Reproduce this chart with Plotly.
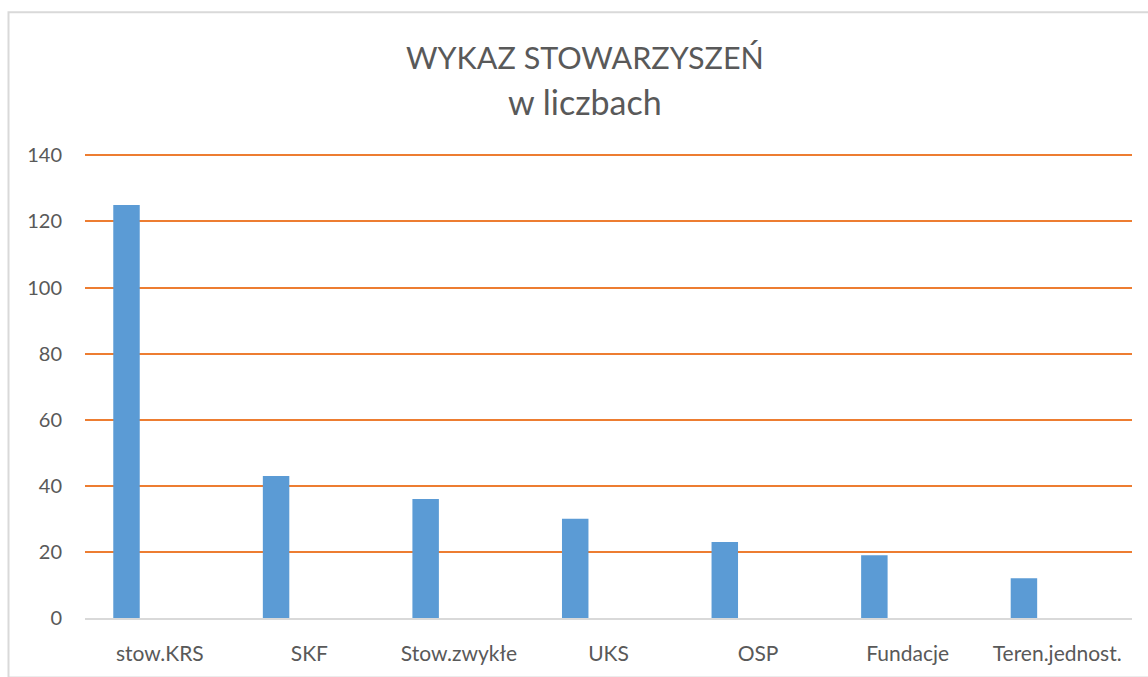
import plotly.graph_objects as go

categories = ["stow.KRS", "SKF", "Stow.zwykłe", "UKS", "OSP", "Fundacje", "Teren.jednost."]
values = [125, 43, 36, 30, 23, 19, 12]
y_ticks = [0, 20, 40, 60, 80, 100, 120, 140]
title_lines = ["WYKAZ STOWARZYSZEŃ", "w liczbach"]

W, H = 1148, 677
ml, mr, mt, mb = 85, 16, 152.4, 55
pw, ph = W - ml - mr, H - mt - mb

txt = "#595959"
font_name = "Lato"

fig = go.Figure()
fig.add_trace(go.Bar(
    x=categories, y=values,
    marker=dict(color="#5B9BD5", line=dict(width=0)),
    width=0.177, offset=-0.311,
    showlegend=False,
))

fig.update_layout(
    width=W, height=H,
    margin=dict(l=ml, r=mr, t=mt, b=mb),
    paper_bgcolor="white", plot_bgcolor="white",
    font=dict(family=font_name, color=txt, size=20),
    xaxis=dict(
        showgrid=False, showline=True, linecolor="#D9D9D9", linewidth=2,
        ticks="", ticklabelstandoff=16,
        tickfont=dict(size=21, color=txt),
    ),
    yaxis=dict(
        range=[0, 141], tickvals=y_ticks,
        showgrid=True, gridcolor="#ED7D31", gridwidth=1.6,
        zeroline=False, showline=False, ticks="",
        ticklabelstandoff=22,
        tickfont=dict(size=20, color=txt),
    ),
)

# title as two lines placed by pixel position
for text, ypix, size in [(title_lines[0], 56.5, 30.5), (title_lines[1], 101.5, 34)]:
    fig.add_annotation(
        text=text, showarrow=False,
        xref="paper", yref="paper",
        x=(585 - ml) / pw, y=1 + (mt - ypix) / ph,
        xanchor="center", yanchor="middle",
        font=dict(family=font_name, size=size, color=txt),
    )

# chart border (left and top edges visible)
fig.add_shape(
    type="rect", xref="paper", yref="paper",
    x0=(8.5 - ml) / pw, x1=(W + 5 - ml) / pw,
    y0=-(mb + 5) / ph, y1=1 + (mt - 11.5) / ph,
    line=dict(color="#D9D9D9", width=2), layer="below",
)

fig.write_html("out.html", config={"displayModeBar": False},
               post_script="document.body.style.margin='0';")
